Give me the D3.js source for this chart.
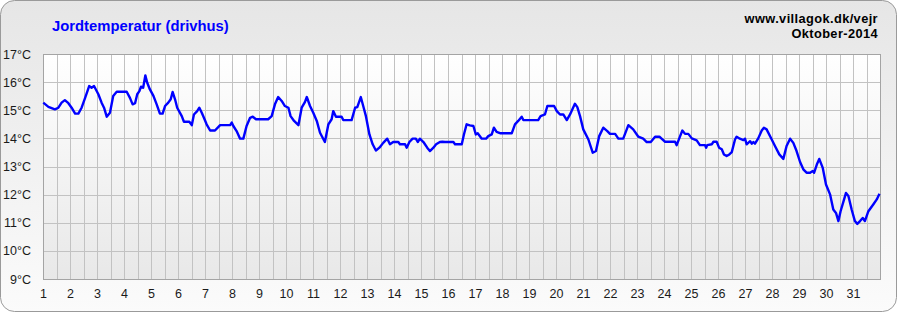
<!DOCTYPE html>
<html>
<head>
<meta charset="utf-8">
<script src="https://cdn.jsdelivr.net/npm/d3@7"></script>
<style>
  html, body { margin: 0; padding: 0; background: #ffffff; }
  svg { display: block; }
</style>
</head>
<body>
<svg id="chart" width="897" height="312"></svg>
<script>
// ---- Data ----
const chartTitle = "Jordtemperatur (drivhus)";
const siteText = "www.villagok.dk/vejr";
const periodText = "Oktober-2014";

const dayTicks = d3.range(1, 32);            // 1..31
const tempTicks = [9, 10, 11, 12, 13, 14, 15, 16, 17];

// time (day of month, fractional) and soil temperature (°C)
const days = [
  1.01, 1.20, 1.44, 1.57, 1.69, 1.81, 1.94, 2.06, 2.19, 2.31, 2.43, 2.56, 2.71, 2.80, 2.89,
  3.05, 3.17, 3.26, 3.36, 3.48, 3.60, 3.73, 4.10, 4.22, 4.32, 4.41, 4.49, 4.57, 4.63, 4.71,
  4.79, 4.86, 4.96, 5.09, 5.21, 5.33, 5.43, 5.52, 5.64, 5.73, 5.80, 5.89, 5.97, 6.14, 6.22,
  6.42, 6.51, 6.59, 6.71, 6.79, 6.88, 6.96, 7.06, 7.19, 7.37, 7.56, 7.93, 7.99, 8.05, 8.17,
  8.30, 8.42, 8.54, 8.67, 8.77, 8.89, 9.34, 9.47, 9.59, 9.71, 9.84, 9.96, 10.09, 10.17, 10.30,
  10.46, 10.58, 10.70, 10.77, 10.89, 11.01, 11.14, 11.26, 11.44, 11.57, 11.69, 11.75, 11.85,
  12.06, 12.12, 12.43, 12.56, 12.64, 12.77, 12.86, 12.96, 13.09, 13.21, 13.33, 13.46, 13.60,
  13.75, 13.85, 13.97, 14.16, 14.22, 14.41, 14.47, 14.57, 14.69, 14.81, 14.88, 14.96, 15.09,
  15.23, 15.33, 15.46, 15.56, 15.70, 15.79, 15.89, 16.20, 16.26, 16.51, 16.59, 16.69, 16.81,
  16.94, 17.03, 17.10, 17.25, 17.41, 17.49, 17.62, 17.70, 17.80, 17.95, 18.36, 18.48, 18.60,
  18.73, 18.79, 19.34, 19.43, 19.59, 19.68, 19.93, 20.03, 20.15, 20.27, 20.40, 20.52, 20.70,
  20.79, 20.89, 21.01, 21.20, 21.36, 21.48, 21.60, 21.75, 21.90, 22.00, 22.19, 22.31, 22.49,
  22.68, 22.86, 23.05, 23.23, 23.36, 23.51, 23.67, 23.83, 23.91, 24.04, 24.41, 24.47, 24.59,
  24.68, 24.78, 24.90, 25.03, 25.21, 25.33, 25.52, 25.56, 25.60, 25.77, 25.83, 25.95, 26.04,
  26.14, 26.22, 26.32, 26.42, 26.51, 26.63, 26.69, 26.81, 26.94, 27.00, 27.06, 27.19, 27.25,
  27.31, 27.37, 27.49, 27.62, 27.70, 27.80, 27.99, 28.11, 28.27, 28.42, 28.54, 28.67, 28.79,
  28.91, 29.04, 29.16, 29.28, 29.41, 29.51, 29.56, 29.66, 29.75, 29.88, 30.00, 30.15, 30.27,
  30.37, 30.46, 30.54, 30.67, 30.74, 30.83, 30.95, 31.07, 31.16, 31.26, 31.36, 31.44, 31.57,
  31.75, 31.88, 31.98
];
const temps = [
  15.27, 15.12, 15.03, 15.09, 15.27, 15.36, 15.25, 15.09, 14.88, 14.88, 15.09, 15.44, 15.86, 15.80, 15.86,
  15.57, 15.27, 15.09, 14.77, 14.91, 15.51, 15.66, 15.66, 15.44, 15.21, 15.25, 15.57, 15.68, 15.84, 15.80,
  16.24, 15.98, 15.74, 15.51, 15.21, 14.88, 14.88, 15.15, 15.27, 15.39, 15.65, 15.39, 15.09, 14.79, 14.59,
  14.59, 14.47, 14.85, 14.97, 15.09, 14.91, 14.73, 14.50, 14.28, 14.28, 14.47, 14.47, 14.56, 14.44, 14.26,
  13.99, 13.99, 14.44, 14.73, 14.77, 14.68, 14.68, 14.79, 15.21, 15.47, 15.33, 15.15, 15.09, 14.79, 14.62,
  14.47, 15.09, 15.29, 15.47, 15.15, 14.91, 14.62, 14.20, 13.87, 14.50, 14.68, 14.97, 14.77,
  14.77, 14.65, 14.65, 15.09, 15.11, 15.47, 15.15, 14.79, 14.14, 13.79, 13.57, 13.67, 13.84,
  13.99, 13.79, 13.87, 13.87, 13.79, 13.79, 13.67, 13.87, 13.99, 13.99, 13.87, 13.99, 13.87,
  13.67, 13.55, 13.67, 13.79, 13.87, 13.88, 13.87, 13.87, 13.79, 13.79, 14.14, 14.50, 14.46,
  14.44, 14.14, 14.18, 13.99, 13.99, 14.08, 14.14, 14.38, 14.23, 14.18, 14.18, 14.50, 14.62,
  14.77, 14.65, 14.65, 14.79, 14.85, 15.15, 15.15, 14.97, 14.85, 14.85, 14.65, 14.85, 15.23,
  15.11, 14.79, 14.32, 13.96, 13.49, 13.55, 14.08, 14.38, 14.26, 14.16, 14.16, 13.99, 13.99,
  14.47, 14.32, 14.06, 13.99, 13.87, 13.87, 14.06, 14.06, 13.99, 13.88, 13.88, 13.76, 14.06,
  14.28, 14.16, 14.16, 14.00, 13.93, 13.76, 13.76, 13.67, 13.76, 13.79, 13.88, 13.88, 13.67,
  13.61, 13.43, 13.37, 13.43, 13.51, 13.96, 14.06, 13.99, 13.94, 13.99, 13.79, 13.90, 13.81,
  13.87, 13.81, 14.00, 14.28, 14.38, 14.32, 13.96, 13.73, 13.43, 13.27, 13.73, 13.99, 13.84,
  13.55, 13.16, 12.90, 12.78, 12.78, 12.84, 12.78, 13.07, 13.27, 12.95, 12.36, 12.01, 11.47,
  11.35, 11.06, 11.41, 11.83, 12.06, 11.95, 11.47, 11.06, 10.96, 11.06, 11.17, 11.06, 11.41,
  11.65, 11.83, 12.03
];

// ---- Layout ----
const W = 897, H = 312;
const plot = { left: 43, right: 880, top: 54, bottom: 279 };

const svg = d3.select("#chart");
const defs = svg.append("defs");

const bgGrad = defs.append("linearGradient").attr("id", "bgGrad")
  .attr("x1", 0).attr("y1", 0).attr("x2", 0).attr("y2", 1);
bgGrad.append("stop").attr("offset", "0%").attr("stop-color", "#e6e6e6");
bgGrad.append("stop").attr("offset", "100%").attr("stop-color", "#fbfbfb");

const plotGrad = defs.append("linearGradient").attr("id", "plotGrad")
  .attr("x1", 0).attr("y1", 0).attr("x2", 0).attr("y2", 1);
plotGrad.append("stop").attr("offset", "0%").attr("stop-color", "#ffffff");
plotGrad.append("stop").attr("offset", "100%").attr("stop-color", "#e8e8e8");

// outer panel
svg.append("rect")
  .attr("x", 0.5).attr("y", 0.5).attr("width", W - 1).attr("height", H - 1)
  .attr("rx", 14).attr("ry", 14)
  .attr("fill", "url(#bgGrad)").attr("stroke", "#9a9a9a").attr("stroke-width", 1);

// scales
const x = d3.scaleLinear().domain([1, 32]).range([plot.left, plot.right]);
const y = d3.scaleLinear().domain([9, 17]).range([plot.bottom, plot.top]);

// plot background
svg.append("rect")
  .attr("x", plot.left).attr("y", plot.top)
  .attr("width", plot.right - plot.left).attr("height", plot.bottom - plot.top)
  .attr("fill", "url(#plotGrad)");

// grid
const grid = svg.append("g").attr("stroke", "#c2c2c2").attr("stroke-width", 1).attr("shape-rendering", "crispEdges");
const halfDays = d3.range(1, 32.01, 0.5);
grid.selectAll("line.v").data(halfDays).join("line")
  .attr("x1", d => Math.round(x(d)) + 0.5).attr("x2", d => Math.round(x(d)) + 0.5)
  .attr("y1", plot.top).attr("y2", plot.bottom);
grid.selectAll("line.h").data(tempTicks).join("line")
  .attr("x1", plot.left).attr("x2", plot.right)
  .attr("y1", d => Math.round(y(d)) + 0.5).attr("y2", d => Math.round(y(d)) + 0.5);

// plot border
svg.append("rect")
  .attr("x", plot.left + 0.5).attr("y", plot.top + 0.5)
  .attr("width", plot.right - plot.left).attr("height", plot.bottom - plot.top)
  .attr("fill", "none").attr("stroke", "#a4a4a4").attr("shape-rendering", "crispEdges");

// axes (labels via d3 axes)
const xAxis = d3.axisBottom(x).tickValues(dayTicks).tickSize(0).tickPadding(10).tickFormat(d3.format("d"));
const gx = svg.append("g").attr("transform", `translate(0,${plot.bottom})`).call(xAxis);
gx.select(".domain").remove();
gx.selectAll("text").attr("font-family", "Liberation Sans, Arial, sans-serif")
  .attr("font-size", 12.5).attr("fill", "#1a1a1a");

const yAxis = d3.axisLeft(y).tickValues(tempTicks).tickSize(0).tickPadding(12).tickFormat(d => d + "°C");
const gy = svg.append("g").attr("transform", `translate(${plot.left},0)`).call(yAxis);
gy.select(".domain").remove();
gy.selectAll("text").attr("font-family", "Liberation Sans, Arial, sans-serif")
  .attr("font-size", 12.5).attr("fill", "#1a1a1a");

// line
const series = days.map((d, i) => ({ d, t: temps[i] }));
const line = d3.line().x(p => x(p.d)).y(p => y(p.t));
svg.append("path")
  .datum(series)
  .attr("d", line)
  .attr("fill", "none")
  .attr("stroke", "#0000ff")
  .attr("stroke-width", 2.4)
  .attr("stroke-linejoin", "round");

// texts
svg.append("text")
  .attr("x", 52).attr("y", 31)
  .attr("font-family", "Liberation Sans, Arial, sans-serif")
  .attr("font-weight", "bold").attr("font-size", 14.8)
  .attr("fill", "#0000ff")
  .text(chartTitle);

svg.append("text")
  .attr("x", 878).attr("y", 23).attr("text-anchor", "end")
  .attr("font-family", "Liberation Sans, Arial, sans-serif")
  .attr("font-weight", "bold").attr("font-size", 12.8)
  .attr("letter-spacing", 0.4)
  .attr("fill", "#000000")
  .text(siteText);

svg.append("text")
  .attr("x", 878).attr("y", 38).attr("text-anchor", "end")
  .attr("font-family", "Liberation Sans, Arial, sans-serif")
  .attr("font-weight", "bold").attr("font-size", 12.8)
  .attr("letter-spacing", 0.4)
  .attr("fill", "#000000")
  .text(periodText);
</script>
</body>
</html>
